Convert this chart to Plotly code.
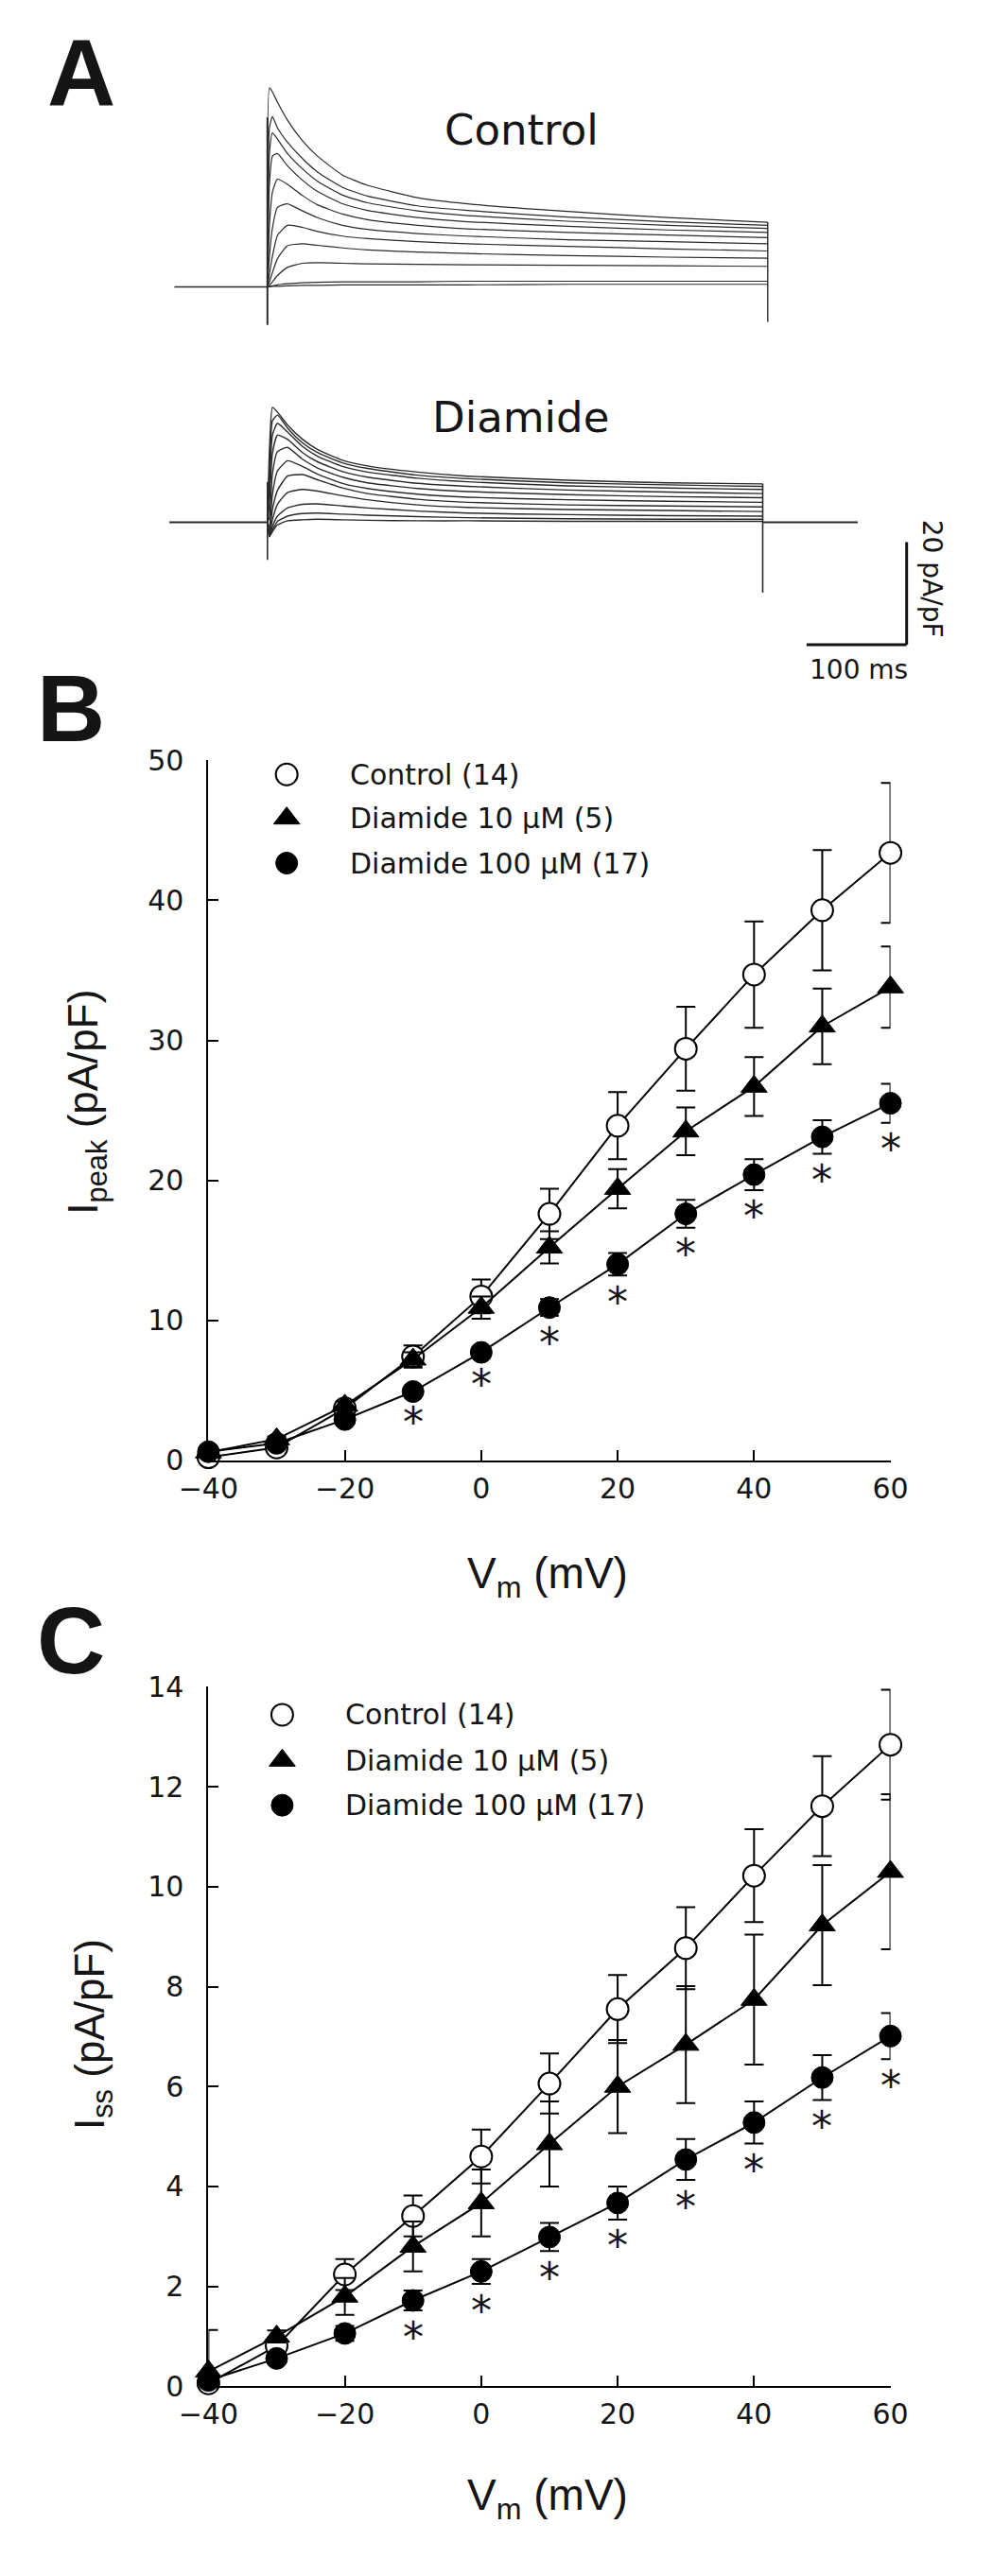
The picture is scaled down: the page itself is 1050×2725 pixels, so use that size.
import plotly.graph_objects as go

W, H = 1050, 2725

# ---------------- data: panel B / C (I-V relations) ----------------
voltages = [-40, -30, -20, -10, 0, 10, 20, 30, 40, 50, 60]
x_ticks = [-40, -20, 0, 20, 40, 60]

ipeak_ctrl = [0.2, 0.9, 3.7, 7.4, 11.7, 17.6, 23.9, 29.4, 34.7, 39.3, 43.4]
ipeak_ctrl_err = [0.1, 0.2, 0.4, 0.8, 1.2, 1.8, 2.4, 3.0, 3.8, 4.3, 5.0]
ipeak_d10 = [0.56, 1.5, 3.9, 7.2, 10.9, 15.2, 19.4, 23.5, 26.7, 31.0, 33.8]
ipeak_d10_err = [0.1, 0.2, 0.3, 0.5, 0.8, 1.15, 1.4, 1.7, 2.1, 2.7, 2.9]
ipeak_d100 = [0.6, 1.2, 2.9, 4.9, 7.7, 10.9, 14.0, 17.6, 20.4, 23.1, 25.5]
ipeak_d100_err = [0.1, 0.15, 0.25, 0.3, 0.4, 0.6, 0.8, 1.0, 1.1, 1.2, 1.4]

iss_ctrl = [0.06, 0.81, 2.24, 3.41, 4.60, 6.06, 7.55, 8.77, 10.22, 11.61, 12.84]
iss_ctrl_err = [0.05, 0.1, 0.31, 0.41, 0.54, 0.6, 0.68, 0.82, 0.93, 1.0, 1.1]
iss_d10 = [0.3, 1.0, 1.8, 2.8, 3.67, 4.85, 6.0, 6.84, 7.74, 9.23, 10.3]
iss_d10_err = [0.83, 0.12, 0.37, 0.5, 0.67, 0.85, 0.93, 1.17, 1.3, 1.2, 1.55]
iss_d100 = [0.12, 0.56, 1.06, 1.72, 2.30, 2.99, 3.67, 4.54, 5.28, 6.18, 7.01]
iss_d100_err = [0.05, 0.1, 0.15, 0.2, 0.25, 0.28, 0.33, 0.41, 0.42, 0.45, 0.46]

signif_from = -10  # asterisks from -10 mV upward

series_names = ["Control (14)", "Diamide 10 \u03bcM (5)", "Diamide 100 \u03bcM (17)"]

# ---------------- data: panel A (current traces, pA/pF vs ms) ----------------
ctrl_pre_t = [-93, 0]
ctrl_t = [0, 2, 5, 10, 20, 35, 50, 75, 100, 150, 200, 300, 400, 500]
ctrl_traces = [
    [0, 38.8, 38.0, 36.0, 32.5, 28.5, 25.5, 21.8, 19.8, 17.4, 16.2, 14.7, 13.5, 12.6],
    [0, 31.0, 33.2, 31.0, 28.2, 25.0, 22.4, 19.4, 17.7, 15.8, 14.9, 13.6, 12.7, 12.0],
    [0, 26.0, 30.0, 28.8, 26.0, 23.0, 20.6, 17.9, 16.4, 14.8, 13.9, 12.8, 12.0, 11.4],
    [0, 20.0, 25.5, 26.0, 23.6, 20.8, 18.6, 16.2, 14.9, 13.5, 12.7, 11.8, 11.1, 10.6],
    [0, 12.0, 18.5, 21.0, 20.0, 17.8, 16.0, 14.2, 13.1, 12.0, 11.3, 10.6, 10.1, 9.6],
    [0, 6.0, 11.5, 15.5, 16.2, 14.8, 13.5, 12.0, 11.2, 10.4, 9.9, 9.2, 8.8, 8.4],
    [0, 2.5, 6.0, 10.0, 12.0, 11.6, 10.8, 9.9, 9.4, 8.8, 8.4, 7.9, 7.4, 7.0],
    [0, 1.0, 2.8, 5.5, 8.0, 8.4, 8.1, 7.6, 7.2, 6.8, 6.5, 6.1, 5.8, 5.6],
    [0, 0.3, 1.0, 2.2, 3.8, 4.6, 4.7, 4.6, 4.5, 4.4, 4.3, 4.2, 4.1, 4.0],
    [0, 0.1, 0.2, 0.4, 0.6, 0.8, 0.9, 1.0, 1.0, 1.0, 1.1, 1.1, 1.1, 1.1],
    [0, 0.0, 0.1, 0.1, 0.2, 0.3, 0.3, 0.4, 0.4, 0.4, 0.4, 0.5, 0.5, 0.5],
]
ctrl_on_artifact = [-7.4, 33.0]
ctrl_off_artifact = [12.6, -6.8]

diam_pre_t = [-98, 0]
diam_post_t = [495, 590]
diam_t = [0, 2, 5, 10, 20, 35, 50, 75, 100, 150, 200, 300, 400, 495]
diam_traces = [
    [0, 14.0, 22.4, 21.5, 19.0, 16.2, 14.2, 12.1, 11.0, 9.8, 9.0, 8.2, 7.7, 7.5],
    [0, 10.0, 19.8, 20.9, 18.4, 15.5, 13.6, 11.6, 10.5, 9.2, 8.5, 7.7, 7.3, 7.0],
    [0, 7.0, 17.0, 19.3, 17.6, 14.8, 12.9, 10.9, 9.8, 8.6, 7.9, 7.1, 6.7, 6.4],
    [0, 4.0, 13.5, 17.0, 16.2, 13.6, 11.8, 9.9, 8.8, 7.6, 7.0, 6.3, 5.9, 5.6],
    [0, 1.0, 9.5, 13.8, 14.6, 12.3, 10.6, 8.8, 7.7, 6.6, 6.0, 5.4, 5.0, 4.8],
    [0, -1.0, 5.5, 10.0, 12.0, 10.9, 9.4, 7.6, 6.6, 5.5, 4.9, 4.4, 4.1, 3.9],
    [0, -2.0, 2.5, 6.2, 9.0, 9.3, 8.3, 6.7, 5.6, 4.5, 3.9, 3.4, 3.2, 3.0],
    [0, -2.5, 0.5, 3.5, 5.8, 6.4, 6.1, 5.2, 4.4, 3.4, 2.9, 2.5, 2.3, 2.1],
    [0, -2.7, -0.8, 1.2, 2.8, 3.5, 3.6, 3.2, 2.8, 2.2, 1.8, 1.5, 1.3, 1.2],
    [0, -2.8, -1.5, 0.2, 1.2, 1.7, 1.8, 1.6, 1.4, 1.1, 0.9, 0.7, 0.6, 0.6],
    [0, -2.8, -1.8, -0.5, 0.3, 0.5, 0.6, 0.5, 0.4, 0.3, 0.3, 0.2, 0.2, 0.2],
]
diam_on_artifact = [7.9, -7.3]
diam_off_artifact = [7.5, -13.7]

scale_ms = 100
scale_pApF = 20

# ---------------- layout helpers (pixel geometry) ----------------
def py(p):
    return 1 - p / H

PX_PER_MS = 1.112
PX_PER_PAPF = 5.5
T0_PX = 263.6
CTRL_BASE_PX = 289.3
DIAM_BASE_PX = 541.7

AX_L, AX_R = 198, 956
B_TOP, B_BOT = 797, 1547
C_TOP, C_BOT = 1790, 2540

TXT = "#151515"
TRACE_COL = "#2a2a2a"
DV = "DejaVu Sans"
LS = "Liberation Sans"

fig = go.Figure()

# ---------------- panel A traces ----------------
def add_trace_line(x, y, yaxis, width=1.2):
    fig.add_trace(go.Scatter(x=x, y=y, mode="lines", xaxis="x", yaxis=yaxis,
                             line=dict(color=TRACE_COL, width=width, shape="spline", smoothing=0.5),
                             showlegend=False, hoverinfo="skip"))

add_trace_line(ctrl_pre_t, [0, 0], "y", 1.4)
for tr in ctrl_traces:
    add_trace_line(ctrl_t, tr, "y")
fig.add_trace(go.Scatter(x=[ctrl_t[0]] * 2, y=ctrl_on_artifact, mode="lines", xaxis="x", yaxis="y",
                         line=dict(color=TRACE_COL, width=2), showlegend=False, hoverinfo="skip"))
fig.add_trace(go.Scatter(x=[ctrl_t[-1]] * 2, y=ctrl_off_artifact, mode="lines", xaxis="x", yaxis="y",
                         line=dict(color=TRACE_COL, width=1.4), showlegend=False, hoverinfo="skip"))

add_trace_line(diam_pre_t, [0, 0], "y2", 2)
add_trace_line(diam_post_t, [0, 0], "y2", 2)
for tr in diam_traces:
    add_trace_line(diam_t, tr, "y2", 1.4)
fig.add_trace(go.Scatter(x=[diam_t[0]] * 2, y=diam_on_artifact, mode="lines", xaxis="x", yaxis="y2",
                         line=dict(color=TRACE_COL, width=1.6), showlegend=False, hoverinfo="skip"))
fig.add_trace(go.Scatter(x=[diam_t[-1]] * 2, y=diam_off_artifact, mode="lines", xaxis="x", yaxis="y2",
                         line=dict(color=TRACE_COL, width=1.6), showlegend=False, hoverinfo="skip"))

# scale bar (in diamide-axis data units)
sb_x1 = (974 - T0_PX) / PX_PER_MS
sb_x0 = sb_x1 - scale_ms
sb_y0 = (DIAM_BASE_PX - 673) / PX_PER_PAPF
sb_y1 = sb_y0 + scale_pApF
fig.add_shape(type="line", xref="x", yref="y2", x0=sb_x0, x1=sb_x1, y0=sb_y0, y1=sb_y0,
              line=dict(color="#111", width=3))
fig.add_shape(type="line", xref="x", yref="y2", x0=sb_x1, x1=sb_x1, y0=sb_y0, y1=sb_y1,
              line=dict(color="#111", width=3))

# ---------------- panels B and C ----------------
styles = [
    dict(symbol="circle", size=23, color="white", line=dict(color="black", width=2)),
    dict(symbol="triangle-up", size=24, color="black", line=dict(color="black", width=1)),
    dict(symbol="circle", size=23, color="black", line=dict(color="black", width=1)),
]

def add_panel(xa, ya, series, errs):
    for s, (vals, err) in enumerate(zip(series, errs)):
        fig.add_trace(go.Scatter(
            x=voltages, y=vals, xaxis=xa, yaxis=ya, mode="lines+markers",
            line=dict(color="black", width=2),
            marker=styles[s],
            error_y=dict(type="data", array=err, visible=True, color="black", thickness=2, width=10),
            cliponaxis=False, showlegend=False, hoverinfo="skip"))

add_panel("x2", "y3", [ipeak_ctrl, ipeak_d10, ipeak_d100], [ipeak_ctrl_err, ipeak_d10_err, ipeak_d100_err])
add_panel("x3", "y4", [iss_ctrl, iss_d10, iss_d100], [iss_ctrl_err, iss_d10_err, iss_d100_err])

annotations = []

def add_stars(xref, yref, vals, errs):
    for v, m, e in zip(voltages, vals, errs):
        if v >= signif_from:
            annotations.append(dict(x=v, y=m - e, xref=xref, yref=yref, text="*", showarrow=False,
                                    yanchor="middle", xanchor="center", yshift=-28,
                                    font=dict(family=DV, size=44, color=TXT)))

add_stars("x2", "y3", ipeak_d100, ipeak_d100_err)
add_stars("x3", "y4", iss_d100, iss_d100_err)

# legends (manual, in pixel overlay)
leg_rows = {"B": (285, 353, [812, 859, 907]), "C": (280, 348, [1820, 1869, 1917])}
for s in range(3):
    mx = [leg_rows[k][0] for k in ("B", "C")]
    my = [leg_rows[k][2][s] for k in ("B", "C")]
    fig.add_trace(go.Scatter(x=mx, y=my, xaxis="x4", yaxis="y5", mode="markers",
                             marker=styles[s], showlegend=False, hoverinfo="skip", cliponaxis=False))
    for k in ("B", "C"):
        annotations.append(dict(x=leg_rows[k][1], y=leg_rows[k][2][s], xref="x4", yref="y5",
                                text=series_names[s], showarrow=False, xanchor="left", yanchor="middle",
                                font=dict(family=DV, size=30, color=TXT)))

def ptext(x, y, text, size, family=DV, angle=0, bold=False, xanchor="center"):
    annotations.append(dict(x=x, y=y, xref="x4", yref="y5", text=text, showarrow=False,
                            xanchor=xanchor, yanchor="middle", textangle=angle,
                            font=dict(family=family, size=size, color=TXT,
                                      weight="bold" if bold else "normal")))

ptext(57, 60, "A", 100, LS, bold=True)
ptext(45, 741, "B", 100, LS, bold=True)
ptext(45, 1740, "C", 100, LS, bold=True)
ptext(546, 121, "Control", 45)
ptext(545, 429, "Diamide", 45)
ptext(921, 700, "100 ms", 28)
ptext(1003, 602, "20 pA/pF", 28, angle=90)
ptext(62, 1163, "I<sub>peak</sub> (pA/pF)", 44, LS, angle=-90)
ptext(70, 2163, "I<sub>ss</sub> (pA/pF)", 44, LS, angle=-90)
ptext(575, 1672, "V<sub>m</sub> (mV)", 46, LS)
ptext(575, 2660, "V<sub>m</sub> (mV)", 46, LS)

axis_common = dict(showline=True, linecolor="black", linewidth=2, ticks="inside", ticklen=11,
                   tickwidth=2, tickcolor="black", showgrid=False, zeroline=False,
                   tickfont=dict(family=DV, size=30, color=TXT), fixedrange=True)

hidden = dict(visible=False, showgrid=False, zeroline=False, fixedrange=True)

fig.update_layout(
    width=W, height=H, autosize=False,
    margin=dict(l=0, r=0, t=0, b=0, pad=0),
    paper_bgcolor="white", plot_bgcolor="rgba(0,0,0,0)",
    showlegend=False,
    xaxis=dict(domain=[0, 1], range=[(0 - T0_PX) / PX_PER_MS, (W - T0_PX) / PX_PER_MS], anchor="y", **hidden),
    yaxis=dict(domain=[py(360), py(40)], range=[(CTRL_BASE_PX - 360) / PX_PER_PAPF, (CTRL_BASE_PX - 40) / PX_PER_PAPF],
               anchor="x", **hidden),
    yaxis2=dict(domain=[py(700), py(380)], range=[(DIAM_BASE_PX - 700) / PX_PER_PAPF, (DIAM_BASE_PX - 380) / PX_PER_PAPF],
                anchor="x", **hidden),
    xaxis2=dict(domain=[AX_L / W, AX_R / W], range=[-40, 60], anchor="y3", tickvals=x_ticks,
                ticklabelstandoff=2, **axis_common),
    yaxis3=dict(domain=[py(B_BOT), py(B_TOP)], range=[0, 50], anchor="x2", tickvals=[0, 10, 20, 30, 40, 50],
                ticklabelstandoff=18, **axis_common),
    xaxis3=dict(domain=[AX_L / W, AX_R / W], range=[-40, 60], anchor="y4", tickvals=x_ticks,
                ticklabelstandoff=2, **axis_common),
    yaxis4=dict(domain=[py(C_BOT), py(C_TOP)], range=[0, 14], anchor="x3", tickvals=list(range(0, 15, 2)),
                ticklabelstandoff=18, **axis_common),
    xaxis4=dict(domain=[0, 1], range=[0, W], anchor="y5", **hidden),
    yaxis5=dict(domain=[0, 1], range=[H, 0], anchor="x4", **hidden),
    annotations=annotations,
)

fig.write_html("out.html", config={"displayModeBar": False, "staticPlot": True},
               post_script="document.body.style.margin='0';document.body.style.overflow='hidden';")
